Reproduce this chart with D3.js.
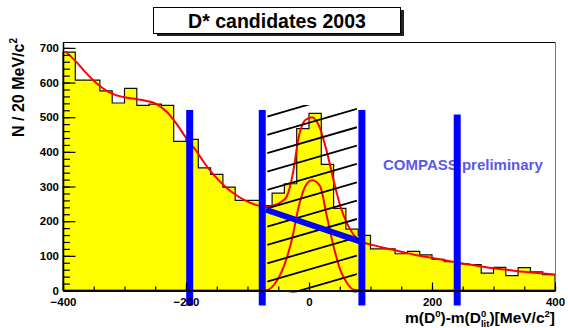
<!DOCTYPE html>
<html>
<head>
<meta charset="utf-8">
<script src="https://cdn.jsdelivr.net/npm/d3@7"></script>
<style>
  body { margin: 0; background: #fff; }
  svg { display: block; }
  text { font-family: "Liberation Sans", Arial, Helvetica, sans-serif; font-weight: bold; }
</style>
</head>
<body>
<svg id="chart" width="568" height="328"></svg>
<script>
// Histogram: 40 bins of 20 MeV from -400 to 400
const binLow = -400;
const binWidth = 20;
const counts = [688, 607, 607, 576, 541, 583, 534, 538, 534, 430,
                436, 354, 335, 298, 260, 260, 245, 281, 308, 467,
                511, 364, 237, 177, 159, 120, 120, 106, 113, 103,
                 90,  83,  77,  75,  50,  67,  43,  66,  54,  46];

// Total fit (background + signal), sampled [x, N]
const fitTotal = [[-396,690],[-378,659],[-361,625],[-345,597],[-329,576],[-313,563],[-296,556],
  [-280,552],[-264,547],[-248,538],[-231,515],[-215,480],[-200,441],[-185,407],[-169,365],
  [-153,330],[-137,301],[-120,277],[-104,260],[-88,248],[-70,241],[-55,247],[-45,256],
  [-36,272],[-26,340],[-17,440],[-6,492],[5,500],[18,468],[29,400],[40,318],[51,243],
  [62,193],[73,160],[84,142],[100,133],[125,122],[150,112],[175,102],[200,94],[225,86],
  [250,78],[275,71],[300,64],[325,59],[350,54],[375,50],[400,46]];

// Signal component alone, sampled [x, N]
const fitSignal = [[-400,0],[-80,0],[-69,1],[-55,21],[-39,79],[-28,146],[-17,240],[-6,301],
  [5,318],[18,301],[29,214],[40,127],[51,59],[62,21],[73,2],[85,0],[400,0]];

// Selection cuts (MeV) and the height each marker reaches
const cutValues = [-194, -76, 86, 241];
const cutTops = [521, 521, 521, 508];

// Background level under the signal window, [x, N]
const bgUnderPeak = [[-70, 233], [84, 141]];

// Hatched signal window
const hatchX = [-68, 78];
const hatchTop = 535;

const xTickValues = [-400, -200, 0, 200, 400];
const yTickValues = [0, 100, 200, 300, 400, 500, 600, 700];

const svg = d3.select("#chart");
const x = d3.scaleLinear().domain([-400, 400]).range([63, 555]);
const y = d3.scaleLinear().domain([0, 717]).range([290.5, 42]);

// ---- title box with drop shadow
svg.append("rect").attr("x", 157).attr("y", 10).attr("width", 247).attr("height", 26).attr("fill", "#222");
svg.append("rect").attr("x", 153.5).attr("y", 7.5).attr("width", 247).attr("height", 26)
  .attr("fill", "#fff").attr("stroke", "#000").attr("stroke-width", 1);
svg.append("text").attr("x", 277).attr("y", 27.5).attr("text-anchor", "middle")
  .attr("font-size", 19.5).text("D* candidates 2003");

// ---- histogram
const steps = [[binLow, 0]];
counts.forEach((c, i) => {
  const lo = binLow + i * binWidth;
  steps.push([lo, c], [lo + binWidth, c]);
});
steps.push([binLow + counts.length * binWidth, 0]);
const stepLine = d3.line().x(d => x(d[0])).y(d => y(d[1]));
svg.append("path").attr("d", stepLine(steps) + "Z").attr("fill", "#ffff00").attr("stroke", "none");
svg.append("path").attr("d", stepLine(steps)).attr("fill", "none").attr("stroke", "#111").attr("stroke-width", 1.2);

// ---- fit curves
const curve = d3.line().x(d => x(d[0])).y(d => y(d[1])).curve(d3.curveMonotoneX);
svg.append("path").attr("d", curve(fitSignal)).attr("fill", "none").attr("stroke", "#ff0000").attr("stroke-width", 2);
svg.append("path").attr("d", curve(fitTotal)).attr("fill", "none").attr("stroke", "#ff0000").attr("stroke-width", 2);

// ---- hatching over the signal window
const hx0 = x(hatchX[0]), hx1 = x(hatchX[1]);
const hy0 = y(hatchTop), hy1 = y(0) + 2;
svg.append("clipPath").attr("id", "hatchClip").append("rect")
  .attr("x", hx0).attr("y", hy0).attr("width", hx1 - hx0).attr("height", hy1 - hy0);
const slope = -0.29, gap = 18.35;
const hatch = svg.append("g").attr("clip-path", "url(#hatchClip)");
for (let k = -2; k < 14; k++) {
  const yl = y(0) - 8.8 - k * gap;
  hatch.append("line").attr("x1", hx0).attr("y1", yl)
    .attr("x2", hx1).attr("y2", yl + slope * (hx1 - hx0))
    .attr("stroke", "#000").attr("stroke-width", 1.8);
}

// ---- label
svg.append("text").attr("x", 383).attr("y", 170).attr("font-size", 15)
  .attr("fill", "#5a5ae6").text("COMPASS preliminary");

// ---- cut markers
cutValues.forEach((v, i) => {
  svg.append("line").attr("x1", x(v)).attr("x2", x(v))
    .attr("y1", y(cutTops[i])).attr("y2", y(0) + 15)
    .attr("stroke", "#0000ff").attr("stroke-width", 7);
});
svg.append("line")
  .attr("x1", x(bgUnderPeak[0][0])).attr("y1", y(bgUnderPeak[0][1]))
  .attr("x2", x(bgUnderPeak[1][0])).attr("y2", y(bgUnderPeak[1][1]))
  .attr("stroke", "#0000ff").attr("stroke-width", 6);

// ---- frame
svg.append("line").attr("x1", 63).attr("x2", 555).attr("y1", 42.5).attr("y2", 42.5).attr("stroke", "#000");
svg.append("line").attr("x1", 555.5).attr("x2", 555.5).attr("y1", 42).attr("y2", 290.5).attr("stroke", "#777");

// ---- axes
const yMinor = d3.axisLeft(y).tickValues(d3.range(0, 717, 20)).tickSize(-7).tickSizeOuter(0).tickFormat("");
const yMajor = d3.axisLeft(y).tickValues(yTickValues).tickSize(-12.5).tickSizeOuter(0).tickPadding(4);
const xMinor = d3.axisBottom(x).tickValues(d3.range(-400, 401, 50)).tickSize(-4).tickSizeOuter(0).tickFormat("");
const xMajor = d3.axisBottom(x).tickValues(xTickValues).tickSize(-8).tickSizeOuter(0).tickPadding(7);

function styleAxis(g, size) {
  g.select(".domain").attr("stroke", "#000").attr("stroke-width", 1.3);
  g.selectAll(".tick line").attr("stroke", "#000").attr("stroke-width", 1.2);
  g.selectAll(".tick text").attr("font-size", size).attr("fill", "#000")
    .attr("font-family", "Liberation Sans, Arial, sans-serif").attr("font-weight", "bold");
}
svg.append("g").attr("transform", "translate(63,0)").call(yMinor).call(g => styleAxis(g, 11.5));
svg.append("g").attr("transform", "translate(63,0)").call(yMajor).call(g => styleAxis(g, 11.5));
svg.append("g").attr("transform", "translate(0,290.5)").call(xMinor).call(g => styleAxis(g, 11.5));
svg.append("g").attr("transform", "translate(0,290.5)").call(xMajor).call(g => styleAxis(g, 11.5));

// ---- axis titles
const yt = svg.append("text").attr("transform", "translate(24,38) rotate(-90)")
  .attr("text-anchor", "end").attr("font-size", 16);
yt.append("tspan").text("N / 20 MeV/c");
yt.append("tspan").attr("font-size", 10).attr("dy", -7).text("2");

const xt = svg.append("text").attr("x", 555).attr("y", 323).attr("text-anchor", "end").attr("font-size", 15.5);
xt.append("tspan").text("m(D");
xt.append("tspan").attr("font-size", 9.5).attr("dy", -6.5).text("0");
xt.append("tspan").attr("dy", 6.5).text(")-m(D");
xt.append("tspan").attr("font-size", 9.5).attr("dy", -6.5).text("0");
xt.append("tspan").attr("font-size", 9.5).attr("dx", -5.3).attr("dy", 10).text("lit");
xt.append("tspan").attr("dy", -3.5).text(")[MeV/c");
xt.append("tspan").attr("font-size", 9.5).attr("dy", -6.5).text("2");
xt.append("tspan").attr("dy", 6.5).text("]");
</script>
</body>
</html>
